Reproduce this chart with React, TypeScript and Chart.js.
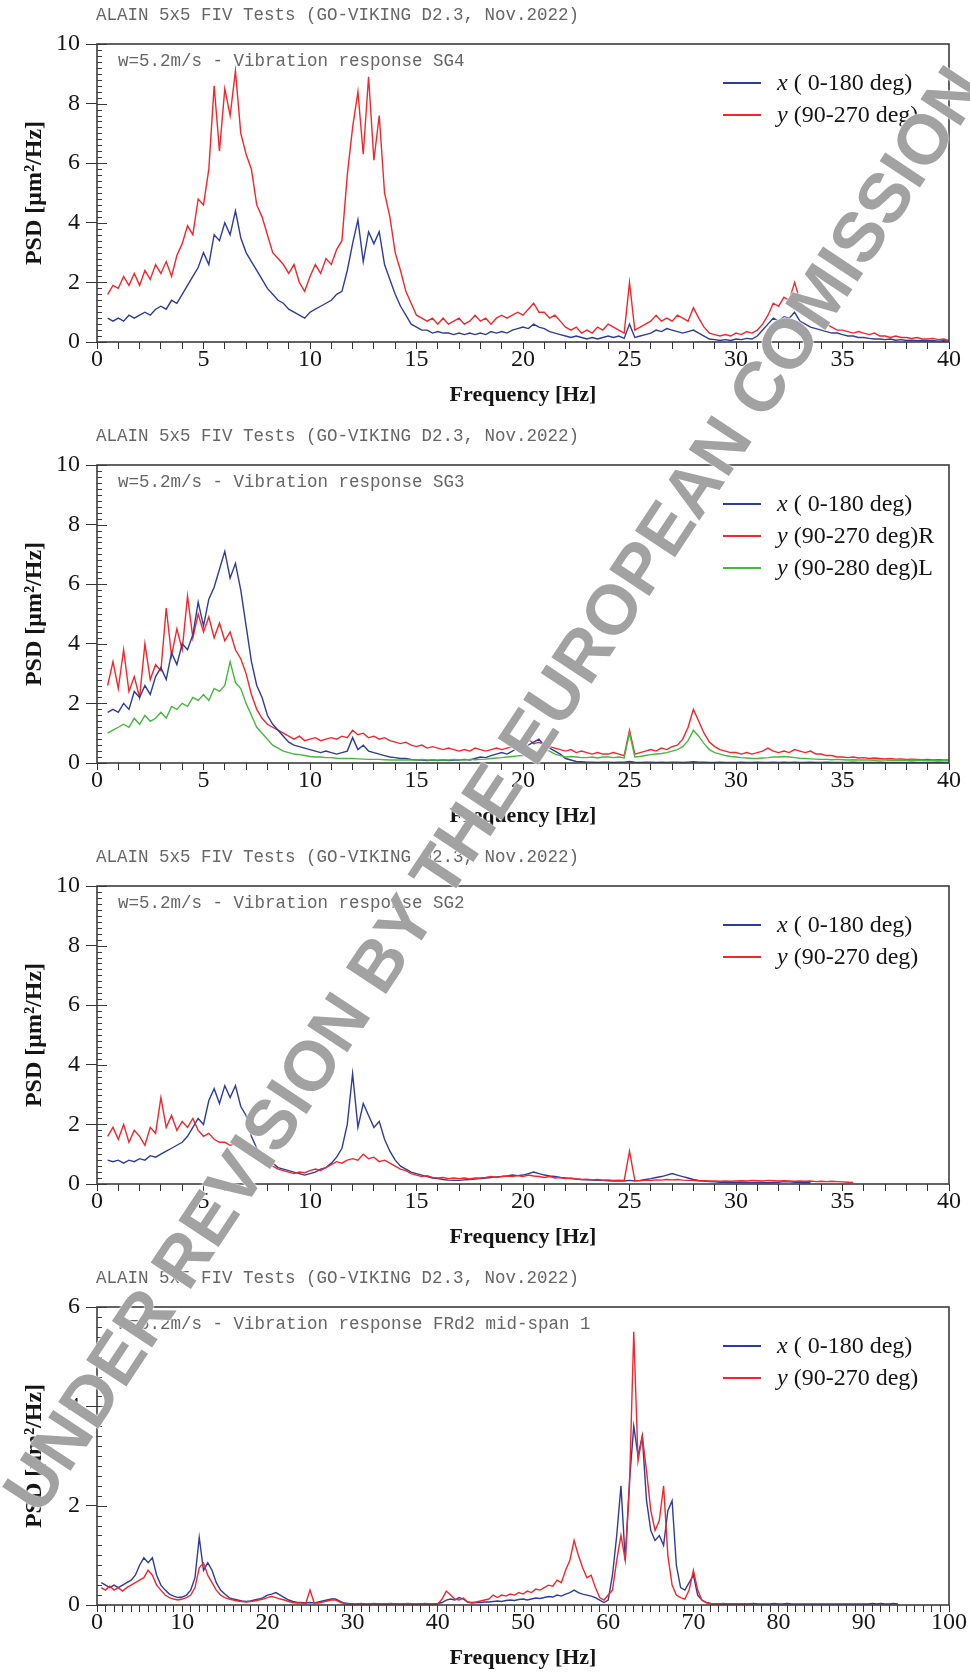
import React, { useEffect, useRef } from "react";
import { Chart, registerables } from "chart.js";

Chart.register(...registerables);

const SERIF = "'Liberation Serif', 'Times New Roman', serif";
const MONO = "'Liberation Mono', 'Courier New', monospace";
const SANS = "'Liberation Sans', Arial, sans-serif";

const BLUE = "#2e3c9c";
const RED = "#f3262b";
const GREEN = "#46b83d";

const FIGURE_TITLE = "ALAIN 5x5 FIV Tests (GO-VIKING D2.3, Nov.2022)";
const X_TITLE = "Frequency [Hz]";
const Y_TITLE = "PSD [μm²/Hz]";
const WATERMARK = "UNDER REVISION BY THE EUROPEAN COMISSION";

// sampling grids (frequency, Hz)
const FREQ_40 = Array.from({ length: 159 }, (_, i) => 0.5 + i * 0.25);
const FREQ_100 = Array.from({ length: 188 }, (_, i) => 0.5 + i * 0.5);

// ---------- Panel 1: SG4 ----------
const SG4_X = [
  0.8, 0.7,
  0.8, 0.7, 0.9, 0.8,
  0.9, 1.0, 0.9, 1.1,
  1.2, 1.1, 1.4, 1.3,
  1.6, 1.9, 2.2, 2.5,
  3.0, 2.6, 3.6, 3.4,
  4.0, 3.6, 4.4, 3.5,
  3.0, 2.7, 2.4, 2.1,
  1.8, 1.6, 1.4, 1.3,
  1.1, 1.0, 0.9, 0.8,
  1.0, 1.1, 1.2, 1.3,
  1.4, 1.6, 1.7, 2.4,
  3.3, 4.1, 2.7, 3.7,
  3.3, 3.7, 2.6, 2.1,
  1.6, 1.2, 0.9, 0.6,
  0.5, 0.4, 0.4, 0.3,
  0.35, 0.3, 0.3, 0.25,
  0.3, 0.25, 0.3, 0.25,
  0.3, 0.25, 0.35, 0.3,
  0.35, 0.3, 0.4, 0.45,
  0.5, 0.45, 0.6, 0.5,
  0.45, 0.35, 0.3, 0.25,
  0.2, 0.15, 0.2, 0.15,
  0.1, 0.15, 0.1, 0.15,
  0.2, 0.15, 0.2, 0.12,
  0.6, 0.15, 0.2, 0.25,
  0.3, 0.4, 0.35, 0.45,
  0.4, 0.35, 0.3, 0.35,
  0.4, 0.3, 0.2, 0.1,
  0.08, 0.05, 0.08, 0.05,
  0.1, 0.08, 0.12, 0.1,
  0.2, 0.4, 0.6, 0.8,
  0.7, 0.85, 0.8, 1.0,
  0.7, 0.6, 0.5, 0.45,
  0.4, 0.35, 0.3, 0.3,
  0.25, 0.2, 0.2, 0.15,
  0.15, 0.12, 0.1, 0.1,
  0.08, 0.1, 0.06, 0.08,
  0.05, 0.06, 0.04, 0.05,
  0.04, 0.05, 0.03, 0.04,
  0.03,
];
const SG4_Y = [
  1.6, 1.9,
  1.8, 2.2, 1.9, 2.3,
  1.9, 2.4, 2.1, 2.6,
  2.3, 2.7, 2.2, 2.9,
  3.3, 3.9, 3.6, 4.8,
  4.6, 5.8, 8.6, 6.4,
  8.5, 7.6, 9.1, 7.0,
  6.3, 5.8, 4.6, 4.2,
  3.6, 3.0, 2.8, 2.6,
  2.3, 2.6, 2.0, 1.7,
  2.2, 2.6, 2.3, 2.8,
  2.6, 3.1, 3.4, 5.6,
  7.2, 8.4, 6.3, 8.9,
  6.1, 7.6, 5.0, 4.2,
  3.0, 2.4, 1.7, 1.3,
  0.9, 0.8, 0.7, 0.8,
  0.6, 0.8, 0.6, 0.7,
  0.8, 0.6, 0.7, 0.9,
  0.7, 0.8, 0.6, 0.8,
  0.9, 0.8, 0.9, 1.0,
  0.9, 1.1, 1.3, 1.0,
  1.0, 0.8, 0.9, 0.7,
  0.5, 0.4, 0.5, 0.3,
  0.4, 0.3, 0.5, 0.4,
  0.6, 0.5, 0.4, 0.3,
  2.0, 0.4, 0.5, 0.6,
  0.7, 0.9, 0.7, 0.8,
  0.7, 0.9, 0.8, 0.7,
  1.15, 0.8, 0.5, 0.3,
  0.25, 0.2, 0.25, 0.2,
  0.3, 0.25, 0.35, 0.3,
  0.4, 0.6, 0.9, 1.3,
  1.2, 1.5, 1.4, 2.0,
  1.4, 1.1, 0.9, 0.8,
  0.7, 0.6, 0.5, 0.4,
  0.4, 0.35, 0.3, 0.35,
  0.3, 0.25, 0.3, 0.2,
  0.2, 0.15, 0.2, 0.15,
  0.15, 0.12, 0.15, 0.1,
  0.1, 0.12, 0.08, 0.1,
  0.05,
];

// ---------- Panel 2: SG3 ----------
const SG3_X = [
  1.7, 1.8,
  1.7, 2.0, 1.8, 2.4,
  2.2, 2.6, 2.3, 2.9,
  3.2, 2.8, 3.7, 3.3,
  4.0, 3.8, 4.3, 5.4,
  4.6, 5.5, 5.9, 6.5,
  7.1, 6.2, 6.7, 5.8,
  4.6, 3.4, 2.6, 2.2,
  1.6, 1.3, 1.1, 0.9,
  0.7, 0.6, 0.55, 0.5,
  0.45, 0.4, 0.35, 0.4,
  0.35, 0.3, 0.35, 0.4,
  0.85, 0.45, 0.6, 0.4,
  0.35, 0.3, 0.25, 0.2,
  0.18, 0.15, 0.15, 0.12,
  0.1, 0.1, 0.08, 0.1,
  0.08, 0.1, 0.08, 0.1,
  0.1, 0.12, 0.1, 0.15,
  0.2, 0.18, 0.25, 0.3,
  0.35, 0.3, 0.4, 0.5,
  0.55, 0.6, 0.7, 0.8,
  0.6, 0.5, 0.4, 0.3,
  0.15, 0.1, 0.05, 0.04,
  0.03, 0.03, 0.02, 0.03,
  0.03, 0.02, 0.03, 0.03,
  0.05, 0.03, 0.02, 0.03,
  0.03, 0.02, 0.03, 0.02,
  0.03, 0.03, 0.02, 0.03,
  0.04, 0.03, 0.03, 0.02,
  0.02, 0.03, 0.02, 0.02,
  0.02, 0.03, 0.02, 0.02,
  0.03, 0.02, 0.02, 0.03,
  0.02, 0.03, 0.02, 0.03,
  0.02, 0.02, 0.03, 0.02,
  0.02, 0.03, 0.02, 0.02,
  0.02, 0.02, 0.03, 0.02,
  0.02, 0.02, 0.02, 0.03,
  0.02, 0.02, 0.02, 0.02,
  0.02, 0.03, 0.02, 0.02,
  0.02, 0.02, 0.03, 0.02,
  0.02,
];
const SG3_YR = [
  2.6, 3.4,
  2.5, 3.8, 2.4, 2.9,
  2.2, 4.0, 2.8, 3.3,
  3.1, 5.2, 3.6, 4.5,
  3.8, 5.6, 4.2, 5.0,
  4.4, 4.9, 4.2, 4.7,
  4.1, 4.4, 3.8, 3.5,
  3.0, 2.3, 1.8, 1.5,
  1.3, 1.2, 1.1, 1.0,
  0.9, 0.8, 0.9, 0.75,
  0.8, 0.85, 0.75, 0.8,
  0.85, 0.8, 0.9, 0.85,
  1.1, 0.95, 1.0, 0.85,
  0.9, 0.8, 0.85, 0.75,
  0.7, 0.65, 0.7, 0.6,
  0.55, 0.6, 0.5, 0.55,
  0.5, 0.45, 0.5, 0.45,
  0.4, 0.45, 0.4, 0.5,
  0.45, 0.4, 0.45, 0.5,
  0.45, 0.5, 0.55, 0.5,
  0.6, 0.8, 0.65, 0.7,
  0.6, 0.55, 0.5, 0.45,
  0.4, 0.45, 0.35, 0.4,
  0.35, 0.3, 0.35, 0.3,
  0.3, 0.35, 0.3, 0.25,
  1.1, 0.3, 0.35, 0.4,
  0.45, 0.4, 0.5, 0.45,
  0.55, 0.6, 0.8, 1.2,
  1.8, 1.4, 1.0, 0.7,
  0.55, 0.45, 0.4, 0.35,
  0.35, 0.3, 0.35, 0.3,
  0.35, 0.4, 0.5, 0.4,
  0.35, 0.4, 0.35, 0.45,
  0.4, 0.35, 0.4, 0.3,
  0.3, 0.25, 0.25, 0.2,
  0.2, 0.18, 0.2, 0.17,
  0.18, 0.15, 0.17, 0.15,
  0.14, 0.15, 0.13, 0.14,
  0.12, 0.13, 0.12, 0.11,
  0.12, 0.1, 0.11, 0.1,
  0.1,
];
const SG3_YL = [
  1.0, 1.1,
  1.2, 1.3, 1.2, 1.5,
  1.3, 1.6, 1.4, 1.5,
  1.7, 1.5, 1.9, 1.8,
  2.0, 1.9, 2.2, 2.1,
  2.3, 2.1, 2.5, 2.4,
  2.6, 3.4, 2.7, 2.5,
  2.0, 1.6, 1.2, 1.0,
  0.8, 0.6, 0.5, 0.4,
  0.35, 0.3, 0.28, 0.25,
  0.22, 0.2, 0.2, 0.18,
  0.18, 0.16, 0.15, 0.15,
  0.15, 0.14, 0.13, 0.12,
  0.12, 0.12, 0.11, 0.1,
  0.1, 0.1, 0.1, 0.1,
  0.1, 0.12, 0.1, 0.11,
  0.1, 0.11, 0.1, 0.12,
  0.11, 0.1, 0.12, 0.11,
  0.12, 0.13, 0.15, 0.17,
  0.18, 0.2, 0.22, 0.24,
  0.25, 0.3, 0.4, 0.35,
  0.45, 0.4, 0.3, 0.25,
  0.2, 0.22, 0.2, 0.18,
  0.18, 0.2, 0.17, 0.2,
  0.2, 0.18, 0.2, 0.17,
  1.0, 0.2, 0.22, 0.25,
  0.28, 0.3, 0.32, 0.35,
  0.4, 0.45, 0.55, 0.75,
  1.1, 0.9, 0.65, 0.45,
  0.35, 0.3, 0.25, 0.22,
  0.2, 0.18, 0.17, 0.15,
  0.15, 0.17, 0.18, 0.2,
  0.2, 0.22, 0.2, 0.18,
  0.16, 0.15, 0.14, 0.13,
  0.12, 0.12, 0.11, 0.12,
  0.11, 0.1, 0.11, 0.1,
  0.1, 0.1, 0.09, 0.1,
  0.1, 0.09, 0.1, 0.09,
  0.09, 0.1, 0.09, 0.09,
  0.08, 0.09, 0.08, 0.08,
  0.08,
];

// ---------- Panel 3: SG2 ----------
const SG2_X = [
  0.8, 0.75,
  0.8, 0.7, 0.8, 0.75,
  0.85, 0.8, 0.95, 0.9,
  1.0, 1.1, 1.2, 1.3,
  1.4, 1.6, 1.9, 2.2,
  2.0, 2.8, 3.2, 2.7,
  3.3, 2.9, 3.3, 2.6,
  2.3, 1.6, 1.2, 1.0,
  0.85, 0.7, 0.55, 0.5,
  0.45, 0.4, 0.35, 0.3,
  0.35, 0.4, 0.5, 0.55,
  0.7, 0.9, 1.2, 2.0,
  3.7, 1.9, 2.7, 2.3,
  1.9, 2.1, 1.5, 1.1,
  0.8, 0.6, 0.5, 0.4,
  0.35, 0.3, 0.25, 0.2,
  0.18, 0.15, 0.13, 0.12,
  0.12, 0.14, 0.15, 0.17,
  0.18, 0.2, 0.22, 0.24,
  0.25, 0.27, 0.3, 0.28,
  0.3, 0.35, 0.4, 0.35,
  0.3, 0.27, 0.25, 0.22,
  0.2, 0.18, 0.17, 0.15,
  0.14, 0.13, 0.12, 0.12,
  0.11, 0.1, 0.1, 0.1,
  0.12, 0.1, 0.12, 0.15,
  0.18, 0.22, 0.25, 0.3,
  0.35, 0.3, 0.25, 0.2,
  0.15, 0.12, 0.1, 0.08,
  0.07, 0.06, 0.06, 0.05,
  0.05, 0.06, 0.05, 0.05,
  0.05, 0.05, 0.04, 0.05,
  0.06, 0.08, 0.07, 0.06,
  0.05, 0.04, 0.04,
];
const SG2_Y = [
  1.6, 1.9,
  1.5, 2.0, 1.4, 1.8,
  1.6, 1.3, 1.9, 1.7,
  2.9, 1.9, 2.3, 1.8,
  2.1, 1.9, 2.2, 1.8,
  1.6, 1.7, 1.5, 1.4,
  1.4, 1.3, 1.35, 1.2,
  1.15, 1.0, 0.95, 0.8,
  0.7, 0.6, 0.5, 0.45,
  0.4, 0.35, 0.4, 0.38,
  0.45, 0.5, 0.45, 0.55,
  0.65, 0.75, 0.7, 0.8,
  0.85, 0.8, 1.0, 0.85,
  0.9, 0.75, 0.8, 0.7,
  0.6, 0.5, 0.45, 0.35,
  0.3, 0.25, 0.28, 0.22,
  0.2, 0.22, 0.18, 0.2,
  0.18, 0.2, 0.17, 0.2,
  0.2, 0.22, 0.25, 0.22,
  0.25, 0.27, 0.25, 0.28,
  0.25, 0.3, 0.27, 0.25,
  0.22, 0.25, 0.2, 0.22,
  0.18, 0.2, 0.17, 0.15,
  0.16, 0.14, 0.15, 0.13,
  0.14, 0.12, 0.13, 0.12,
  1.1, 0.12, 0.11, 0.13,
  0.12, 0.14, 0.13, 0.15,
  0.14, 0.15, 0.13, 0.12,
  0.12, 0.1, 0.11, 0.1,
  0.1, 0.09, 0.1, 0.09,
  0.1, 0.11, 0.1, 0.12,
  0.11, 0.1, 0.12, 0.11,
  0.1, 0.11, 0.1, 0.09,
  0.1, 0.09, 0.1, 0.08,
  0.09, 0.08, 0.09, 0.08,
  0.07, 0.06, 0.05,
];

// ---------- Panel 4: FRd2 mid-span 1 ----------
const FRD2_X = [
  0.45, 0.4, 0.35, 0.4, 0.35, 0.4, 0.45, 0.5, 0.6, 0.8,
  0.95, 0.85, 0.95, 0.6, 0.4, 0.3, 0.22, 0.18, 0.15, 0.16,
  0.2, 0.3, 0.55, 1.36, 0.7, 0.85, 0.7, 0.45, 0.3, 0.22,
  0.15, 0.12, 0.1, 0.08, 0.07, 0.08, 0.1, 0.12, 0.15, 0.2,
  0.22, 0.25, 0.2, 0.15, 0.1, 0.07, 0.05, 0.05, 0.04, 0.05,
  0.04, 0.06, 0.08, 0.1, 0.12, 0.12, 0.08, 0.04, 0.03, 0.02,
  0.02, 0.03, 0.02, 0.02, 0.03, 0.02, 0.02, 0.02, 0.03, 0.02,
  0.02, 0.02, 0.03, 0.02, 0.02, 0.02, 0.03, 0.02, 0.02, 0.03,
  0.05, 0.1, 0.12, 0.1, 0.15, 0.12, 0.06, 0.04, 0.05, 0.05,
  0.06, 0.06, 0.07, 0.08, 0.07, 0.09, 0.1, 0.09, 0.11, 0.12,
  0.1, 0.12, 0.14, 0.13, 0.15, 0.17, 0.16, 0.2, 0.18, 0.22,
  0.25, 0.3, 0.25, 0.22, 0.2, 0.18, 0.15, 0.1, 0.05, 0.1,
  0.6, 1.4, 2.4, 0.9, 2.5, 3.6, 3.0, 3.4, 2.1, 1.5,
  1.3, 1.4, 1.2, 1.9, 2.1, 0.8, 0.35, 0.3, 0.45, 0.6,
  0.2, 0.1, 0.05, 0.03, 0.02, 0.02, 0.03, 0.02, 0.02, 0.02,
  0.02, 0.02, 0.02, 0.03, 0.02, 0.02, 0.02, 0.02, 0.03, 0.02,
  0.02, 0.03, 0.02, 0.02, 0.02, 0.02, 0.02, 0.02, 0.02, 0.02,
  0.02, 0.02, 0.02, 0.02, 0.02, 0.02, 0.02, 0.02, 0.02, 0.02,
  0.02, 0.03, 0.02, 0.03, 0.02, 0.02, 0.03, 0.02,
];
const FRD2_Y = [
  0.35, 0.3, 0.38, 0.3, 0.35, 0.28, 0.35, 0.4, 0.45, 0.5,
  0.55, 0.7, 0.6, 0.4, 0.3, 0.2, 0.15, 0.12, 0.1, 0.12,
  0.15, 0.2, 0.35, 0.75, 0.85, 0.6, 0.45, 0.3, 0.2, 0.15,
  0.12, 0.1, 0.08, 0.07, 0.06, 0.07, 0.08, 0.1, 0.12, 0.15,
  0.17, 0.15, 0.12, 0.1, 0.07, 0.05, 0.04, 0.04, 0.03, 0.3,
  0.04, 0.04, 0.06, 0.08, 0.1, 0.1, 0.06, 0.03, 0.02, 0.02,
  0.02, 0.02, 0.02, 0.02, 0.02, 0.02, 0.02, 0.02, 0.02, 0.02,
  0.02, 0.02, 0.02, 0.02, 0.02, 0.02, 0.02, 0.02, 0.02, 0.02,
  0.12, 0.28, 0.2, 0.12, 0.1, 0.14, 0.06, 0.05, 0.06, 0.08,
  0.1, 0.12, 0.2, 0.15, 0.2, 0.18, 0.22, 0.2, 0.25, 0.22,
  0.28, 0.25, 0.32, 0.3, 0.35, 0.4, 0.38, 0.5, 0.45, 0.7,
  0.9, 1.3, 1.0, 0.75, 0.55, 0.6, 0.35, 0.15, 0.1, 0.2,
  0.3, 0.9, 1.4, 0.9, 2.4, 5.5, 2.9, 3.4, 2.7, 1.9,
  1.5, 1.7, 2.4, 1.0, 0.4, 0.2, 0.15, 0.12, 0.3, 0.7,
  0.3, 0.1, 0.05, 0.03, 0.02, 0.02, 0.02, 0.02, 0.02, 0.02,
  0.02, 0.02, 0.02, 0.02,
];

const LEGEND_X = { sym: "x", text: " ( 0-180 deg)" };
const LEGEND_Y = { sym: "y", text: " (90-270 deg)" };
const LEGEND_YR = { sym: "y", text: " (90-270 deg)R" };
const LEGEND_YL = { sym: "y", text: " (90-280 deg)L" };

type Series = { legend: { sym: string; text: string }; values: number[]; color: string; order: number };
type PanelSpec = {
  top: number;
  subtitle: string;
  xMax: number;
  yMax: number;
  labelEvery: number;
  freq: number[];
  series: Series[];
};

const PANELS: PanelSpec[] = [
  {
    top: 44,
    subtitle: "w=5.2m/s - Vibration response SG4",
    xMax: 40, yMax: 10, labelEvery: 5, freq: FREQ_40,
    series: [
      { legend: LEGEND_X, values: SG4_X, color: BLUE, order: 1 },
      { legend: LEGEND_Y, values: SG4_Y, color: RED, order: 0 },
    ],
  },
  {
    top: 465,
    subtitle: "w=5.2m/s - Vibration response SG3",
    xMax: 40, yMax: 10, labelEvery: 5, freq: FREQ_40,
    series: [
      { legend: LEGEND_X, values: SG3_X, color: BLUE, order: 1 },
      { legend: LEGEND_YR, values: SG3_YR, color: RED, order: 2 },
      { legend: LEGEND_YL, values: SG3_YL, color: GREEN, order: 0 },
    ],
  },
  {
    top: 886,
    subtitle: "w=5.2m/s - Vibration response SG2",
    xMax: 40, yMax: 10, labelEvery: 5, freq: FREQ_40,
    series: [
      { legend: LEGEND_X, values: SG2_X, color: BLUE, order: 1 },
      { legend: LEGEND_Y, values: SG2_Y, color: RED, order: 0 },
    ],
  },
  {
    top: 1307,
    subtitle: "w=5.2m/s - Vibration response FRd2 mid-span 1",
    xMax: 100, yMax: 6, labelEvery: 10, freq: FREQ_100,
    series: [
      { legend: LEGEND_X, values: FRD2_X, color: BLUE, order: 1 },
      { legend: LEGEND_Y, values: FRD2_Y, color: RED, order: 0 },
    ],
  },
];

const CANVAS_W = 970;
const CANVAS_H = 421;
const PAD_TOP = 44;
const AXIS_W = 97;
const PLOT_H = 298;

const framePlugin = {
  id: "psdFrame",
  afterDraw(chart: any) {
    const { ctx, chartArea: a, scales } = chart;
    const y = scales.y;
    ctx.save();
    ctx.strokeStyle = "#3a3a3a";
    ctx.lineWidth = 1;
    const steps = Math.round(y.max / 0.2);
    for (let k = 0; k <= steps; k++) {
      const py = Math.round(y.getPixelForValue(k * 0.2)) + 0.5;
      const len = k % 10 === 0 ? 10 : 5;
      ctx.beginPath();
      ctx.moveTo(a.left, py);
      ctx.lineTo(a.left + len, py);
      ctx.stroke();
    }
    ctx.lineWidth = 1.6;
    ctx.strokeStyle = "#3c3c3c";
    ctx.strokeRect(a.left, a.top, a.right - a.left, a.bottom - a.top);
    ctx.restore();
  },
};

function PanelChart({ spec }: { spec: PanelSpec }) {
  const ref = useRef<HTMLCanvasElement | null>(null);
  useEffect(() => {
    if (!ref.current) return;
    const chart = new Chart(ref.current, {
      type: "line",
      data: {
        datasets: spec.series.map((s) => ({
          label: s.legend.sym + s.legend.text,
          data: s.values.map((v, i) => ({ x: spec.freq[i], y: v })),
          borderColor: s.color,
          backgroundColor: s.color,
          borderWidth: 1.4,
          pointRadius: 0,
          tension: 0,
          fill: false,
          order: s.order,
        })),
      },
      options: {
        animation: false,
        responsive: false,
        maintainAspectRatio: false,
        events: [],
        layout: { padding: { top: PAD_TOP, right: 21, bottom: 0, left: 0 } },
        plugins: { legend: { display: false }, tooltip: { enabled: false }, title: { display: false } },
        scales: {
          x: {
            type: "linear",
            min: 0,
            max: spec.xMax,
            afterFit: (s: any) => {
              s.height = CANVAS_H - PAD_TOP - PLOT_H;
            },
            border: { display: false },
            grid: { drawOnChartArea: false, drawTicks: true, tickLength: 7, color: "#333", lineWidth: 1 },
            ticks: {
              stepSize: 1,
              autoSkip: false,
              maxRotation: 0,
              minRotation: 0,
              maxTicksLimit: 1000,
              padding: -4,
              color: "#151515",
              font: { family: SERIF, size: 24 },
              callback: (v: any) => {
                const n = Number(v);
                return Math.abs(n / spec.labelEvery - Math.round(n / spec.labelEvery)) < 1e-6 ? String(Math.round(n)) : "";
              },
            },
            title: {
              display: true,
              text: X_TITLE,
              color: "#151515",
              font: { family: SERIF, size: 22, weight: "bold" },
              padding: { top: 0, bottom: 12 },
            },
          },
          y: {
            type: "linear",
            min: 0,
            max: spec.yMax,
            afterFit: (s: any) => {
              s.width = AXIS_W;
            },
            border: { display: false },
            grid: { drawOnChartArea: false, drawTicks: true, tickLength: 11, color: "#333", lineWidth: 1 },
            ticks: {
              stepSize: 2,
              padding: 6,
              color: "#151515",
              font: { family: SERIF, size: 24 },
            },
            title: {
              display: true,
              text: Y_TITLE,
              color: "#151515",
              font: { family: SERIF, size: 24, weight: "bold" },
              padding: { top: 20, bottom: 0 },
            },
          },
        },
      } as any,
      plugins: [framePlugin],
    });
    return () => chart.destroy();
  }, [spec]);

  return (
    <canvas
      ref={ref}
      width={CANVAS_W}
      height={CANVAS_H}
      style={{ position: "absolute", left: 0, top: spec.top - PAD_TOP, width: CANVAS_W, height: CANVAS_H }}
    />
  );
}

function Panel({ spec }: { spec: PanelSpec }) {
  return (
    <>
      <PanelChart spec={spec} />
      <div
        style={{
          position: "absolute",
          left: 96,
          top: spec.top - 39,
          fontFamily: MONO,
          fontSize: 17.5,
          lineHeight: "20px",
          color: "#666666",
          whiteSpace: "pre",
        }}
      >
        {FIGURE_TITLE}
      </div>
      <div
        style={{
          position: "absolute",
          left: 118,
          top: spec.top + 7,
          fontFamily: MONO,
          fontSize: 17.5,
          lineHeight: "20px",
          color: "#666666",
          whiteSpace: "pre",
        }}
      >
        {spec.subtitle}
      </div>
      {spec.series.map((s, j) => {
        const cy = spec.top + 39 + 32 * j;
        return (
          <React.Fragment key={j}>
            <div
              style={{ position: "absolute", left: 723, top: cy - 1, width: 38, height: 2, background: s.color }}
            />
            <div
              style={{
                position: "absolute",
                left: 777,
                top: cy - 15,
                fontFamily: SERIF,
                fontSize: 24,
                lineHeight: "28px",
                color: "#151515",
                whiteSpace: "pre",
              }}
            >
              <i>{s.legend.sym}</i>
              {s.legend.text}
            </div>
          </React.Fragment>
        );
      })}
    </>
  );
}

export default function App() {
  return (
    <div
      style={{
        position: "absolute",
        left: 0,
        top: 0,
        width: 970,
        height: 1677,
        background: "#ffffff",
        overflow: "hidden",
      }}
    >
      {PANELS.map((p, i) => (
        <Panel key={i} spec={p} />
      ))}
      <div
        style={{
          position: "absolute",
          left: 493,
          top: 789,
          transform: "translate(-50%, -50%) rotate(-56.5deg)",
          fontFamily: SANS,
          fontWeight: "bold",
          fontSize: 70,
          lineHeight: 1,
          color: "#a2a2a2",
          whiteSpace: "nowrap",
          pointerEvents: "none",
          textShadow: "0 0 2px #fff, 0 0 2px #fff",
        }}
      >
        {WATERMARK}
      </div>
    </div>
  );
}
